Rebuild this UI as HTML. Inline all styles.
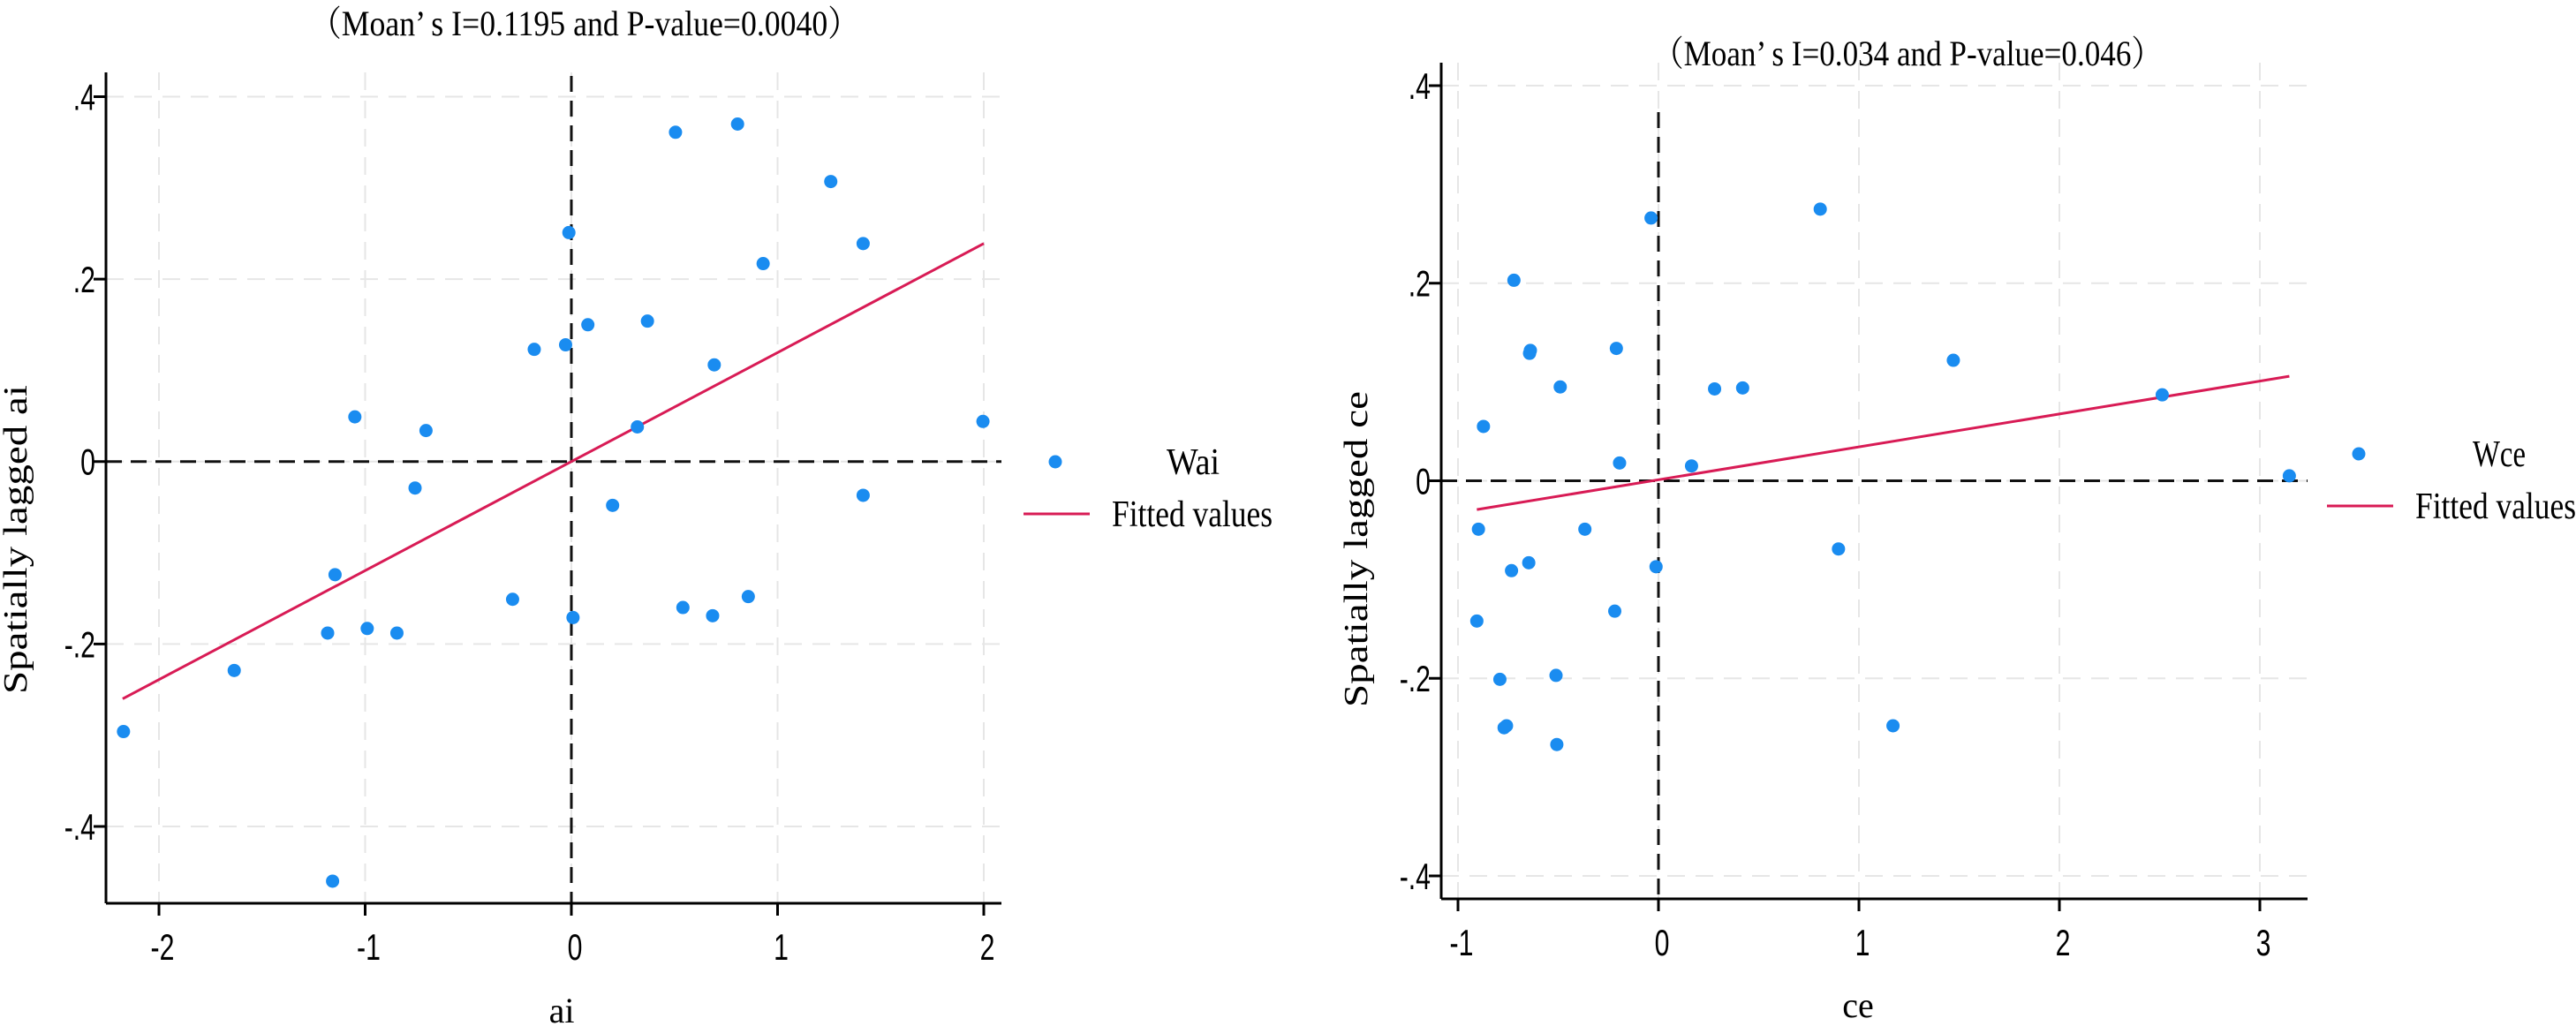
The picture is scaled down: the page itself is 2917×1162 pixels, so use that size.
<!DOCTYPE html>
<html><head><meta charset="utf-8"><style>
html,body{margin:0;padding:0;background:#fff;}
svg{display:block;}
</style></head><body>
<svg id="svg" width="2917" height="1162" viewBox="0 0 2917 1162" xmlns="http://www.w3.org/2000/svg">
</svg>
<script>
// Left chart data (ai)
const aiX = [0.505,0.806,1.258,1.415,0.93,-0.012,0.08,0.369,-0.18,-0.028,0.693,-1.05,-0.705,0.32,1.996,-0.758,0.2,1.415,-1.146,-0.285,0.858,0.541,0.685,0.008,-1.182,-0.99,-0.846,-1.635,-2.172,-1.158];
const aiY = [0.361,0.370,0.307,0.239,0.217,0.251,0.150,0.154,0.123,0.128,0.106,0.049,0.034,0.038,0.044,-0.029,-0.048,-0.037,-0.124,-0.151,-0.148,-0.160,-0.169,-0.171,-0.188,-0.183,-0.188,-0.229,-0.296,-0.460];
const aiFit = [0.1195, 0.0];   // slope, intercept
const aiFitRange = [-2.176, 2.0];
const aiXTicks = [-2,-1,0,1,2];
const aiXTickLabels = ["-2","-1","0","1","2"];
const aiYTicks = [0.4,0.2,0,-0.2,-0.4];
const aiYTickLabels = [".4",".2","0","-.2","-.4"];
// Right chart data (ce)
const ceX = [-0.037,0.807,-0.721,-0.639,-0.643,-0.21,-0.49,1.471,0.28,0.42,2.513,-0.873,-0.194,0.165,3.147,-0.898,-0.367,0.898,-0.647,-0.733,-0.012,-0.218,-0.906,-0.791,-0.511,-0.758,-0.77,-0.507,1.17];
const ceY = [0.266,0.275,0.203,0.132,0.129,0.134,0.095,0.122,0.093,0.094,0.087,0.055,0.018,0.015,0.005,-0.049,-0.049,-0.069,-0.083,-0.091,-0.087,-0.132,-0.142,-0.201,-0.197,-0.248,-0.250,-0.267,-0.248];
const ceFit = [0.0333, 0.001];
const ceFitRange = [-0.906, 3.147];
const ceXTicks = [-1,0,1,2,3];
const ceXTickLabels = ["-1","0","1","2","3"];
const ceYTicks = [0.4,0.2,0,-0.2,-0.4];
const ceYTickLabels = [".4",".2","0","-.2","-.4"];

const NS="http://www.w3.org/2000/svg";
const svg=document.getElementById('svg');
function mk(tag,attrs,parent){const e=document.createElementNS(NS,tag);for(const k in attrs)e.setAttribute(k,attrs[k]);(parent||svg).appendChild(e);return e;}

function chart(cfg){
  const g=mk('g',{});
  
  
  const sx=v=>cfg.x0px+(v-cfg.xa)*(cfg.x1px-cfg.x0px)/(cfg.xb-cfg.xa);
  const sy=v=>cfg.y0px+(v-cfg.ya)*(cfg.y1px-cfg.y0px)/(cfg.yb-cfg.ya);
  cfg.xTicks.forEach(t=>{const l=mk('line',{x1:sx(t),x2:sx(t),y1:cfg.top,y2:cfg.bottom,stroke:'#e6e6e6','stroke-width':2,'stroke-dasharray':'20 12'},g);
    });
  cfg.yTicks.forEach(t=>{const l=mk('line',{x1:cfg.left,x2:cfg.right,y1:sy(t),y2:sy(t),stroke:'#e6e6e6','stroke-width':2,'stroke-dasharray':'20 12'},g);
    });
  let z=mk('line',{x1:cfg.left,x2:cfg.right,y1:sy(0),y2:sy(0),stroke:'#111','stroke-width':3,'stroke-dasharray':'18 10'},g);
  
  z=mk('line',{x1:sx(0),x2:sx(0),y1:cfg.vTop,y2:cfg.bottom,stroke:'#111','stroke-width':3,'stroke-dasharray':'18 10'},g);
  
  let a=mk('line',{x1:cfg.left,x2:cfg.left,y1:cfg.top,y2:cfg.bottom,stroke:'#000','stroke-width':3},g);
  
  a=mk('line',{x1:cfg.left,x2:cfg.right,y1:cfg.bottom,y2:cfg.bottom,stroke:'#000','stroke-width':3},g);
  
  cfg.xTicks.forEach((t,i)=>{
    const tk=mk('line',{x1:sx(t),x2:sx(t),y1:cfg.bottom,y2:cfg.bottom+14,stroke:'#000','stroke-width':3},g);
    
    const tx=mk('text',{x:sx(t)+4,y:cfg.bottom+64,'text-anchor':'middle','font-family':'Liberation Sans, sans-serif','font-size':42,transform:`translate(${sx(t)+4},0) scale(0.72,1) translate(${-(sx(t)+4)},0)`},g);
    tx.textContent=cfg.xLabels[i];
    
  });
  cfg.yTicks.forEach((t,i)=>{
    const tk=mk('line',{x1:cfg.left-14,x2:cfg.left,y1:sy(t),y2:sy(t),stroke:'#000','stroke-width':3},g);
    
    const tx=mk('text',{x:cfg.left-12,y:sy(t)+15,'text-anchor':'end','font-family':'Liberation Sans, sans-serif','font-size':42,transform:`translate(${cfg.left-12},0) scale(0.72,1) translate(${-(cfg.left-12)},0)`},g);
    tx.textContent=cfg.yLabels[i];
    
  });
  const f=mk('line',{x1:sx(cfg.fitRange[0]),y1:sy(cfg.fit[0]*cfg.fitRange[0]+cfg.fit[1]),x2:sx(cfg.fitRange[1]),y2:sy(cfg.fit[0]*cfg.fitRange[1]+cfg.fit[1]),stroke:'#d81b55','stroke-width':3},g);
  
  cfg.xs.forEach((v,i)=>{
    const c=mk('ellipse',{cx:sx(v),cy:sy(cfg.ys[i]),rx:7.5,ry:7.5,fill:'#1a8cf0'},g);
    
    
  });
  let t=mk('text',{x:cfg.titleX,y:cfg.titleY,'text-anchor':'middle','font-family':'Liberation Serif, Noto Serif CJK SC, serif','font-size':40,textLength:cfg.titleLen,lengthAdjust:'spacingAndGlyphs'},g);
  t.textContent=cfg.title;
  t=mk('text',{x:cfg.xtX,y:cfg.xtY,'text-anchor':'middle','font-family':'Liberation Serif, serif','font-size':40},g);
  t.textContent=cfg.xTitle;
  t=mk('text',{x:0,y:0,'text-anchor':'middle','font-family':'Liberation Serif, serif','font-size':38,textLength:cfg.ytLen,lengthAdjust:'spacingAndGlyphs',transform:`translate(${cfg.ytX},${cfg.ytY}) rotate(-90)`},g);
  t.textContent=cfg.yTitle;
  const lg=mk('g',{},g);
  
  const m=mk('ellipse',{cx:cfg.lgX,cy:cfg.lgY,rx:7.5,ry:7.5,fill:'#1a8cf0'},lg);
  
  t=mk('text',{x:cfg.lgTextX,y:cfg.lgY+14,'text-anchor':'middle','font-family':'Liberation Serif, serif','font-size':42,textLength:60,lengthAdjust:'spacingAndGlyphs'},lg);
  t.textContent=cfg.series;
  const ll=mk('line',{x1:cfg.lgLineX,x2:cfg.lgLineX+75,y1:cfg.lgY+59,y2:cfg.lgY+59,stroke:'#d81b55','stroke-width':3},lg);
  
  t=mk('text',{x:cfg.lgLineX+100,y:cfg.lgY+73,'font-family':'Liberation Serif, serif','font-size':42,textLength:182,lengthAdjust:'spacingAndGlyphs'},lg);
  t.textContent='Fitted values';
}

chart({name:'ai-moran-chart',xa:-2,xb:2,x0px:180,x1px:1114,ya:0.4,yb:-0.4,y0px:109.5,y1px:936,
  left:120,right:1134,top:82,bottom:1023,vTop:86,
  xTicks:aiXTicks,xLabels:aiXTickLabels,yTicks:aiYTicks,yLabels:aiYTickLabels,
  xs:aiX,ys:aiY,fit:aiFit,fitRange:aiFitRange,
  title:'（Moan’ s I=0.1195 and P-value=0.0040）',titleX:662,titleY:40,titleLen:622,
  xTitle:'ai',xtX:636,xtY:1158,yTitle:'Spatially lagged ai',ytX:30,ytY:611,ytLen:350,
  series:'Wai',lgX:1195,lgY:523,lgTextX:1351,lgLineX:1159});
chart({name:'ce-moran-chart',xa:-1,xb:3,x0px:1651,x1px:2559,ya:0.4,yb:-0.4,y0px:97,y1px:992,
  left:1632,right:2613,top:71,bottom:1018,vTop:127,
  xTicks:ceXTicks,xLabels:ceXTickLabels,yTicks:ceYTicks,yLabels:ceYTickLabels,
  xs:ceX,ys:ceY,fit:ceFit,fitRange:ceFitRange,
  title:'（Moan’ s I=0.034 and P-value=0.046）',titleX:2160,titleY:74,titleLen:577,
  xTitle:'ce',xtX:2104,xtY:1152,yTitle:'Spatially lagged ce',ytX:1548,ytY:622,ytLen:358,
  series:'Wce',lgX:2671,lgY:514,lgTextX:2830,lgLineX:2635});
</script>
</body></html>
